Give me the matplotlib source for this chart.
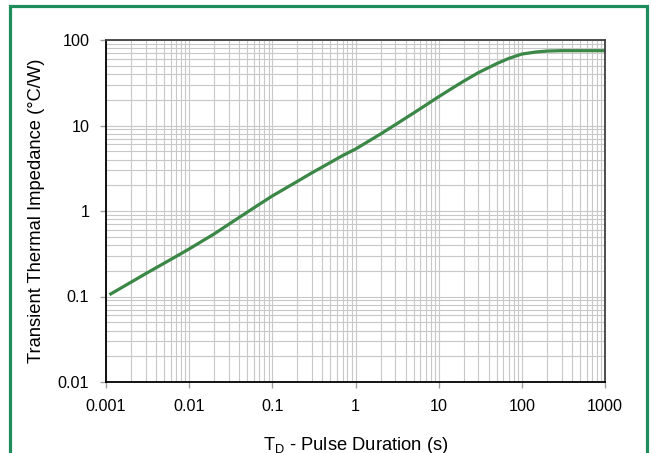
import matplotlib
matplotlib.use("Agg")
import matplotlib.pyplot as plt
from matplotlib.patches import Rectangle

plt.rcParams['font.family'] = ['Liberation Sans', 'DejaVu Sans']
plt.rcParams['mathtext.fontset'] = 'custom'
plt.rcParams['mathtext.rm'] = 'Liberation Sans'

# pulse duration (s) and transient thermal impedance (C/W)
pulse = [0.0011, 0.002, 0.003, 0.005, 0.007, 0.01, 0.02, 0.03, 0.05, 0.07,
         0.1, 0.2, 0.3, 0.5, 0.7, 1, 2, 3, 5, 7, 10, 15, 20, 30, 50, 70,
         100, 150, 200, 300, 500, 1000]
zth = [0.105, 0.147, 0.185, 0.245, 0.295, 0.36, 0.54, 0.70, 0.97, 1.2,
       1.5, 2.22, 2.8, 3.7, 4.45, 5.3, 7.95, 10.2, 14.0, 17.3, 21.7, 27.8, 33.0,
       41.5, 53, 61, 68.5, 72.5, 74.2, 75, 75, 75]

x_ticks = [0.001, 0.01, 0.1, 1, 10, 100, 1000]
x_labels = ['0.001', '0.01', '0.1', '1', '10', '100', '1000']
y_ticks = [0.01, 0.1, 1, 10, 100]
y_labels = ['0.01', '0.1', '1', '10', '100']

fig = plt.figure(figsize=(6.52, 4.53), dpi=100)
ax = fig.add_axes([106 / 652, 1 - 382 / 453, 499 / 652, 342 / 453])

# green frame around the whole chart (bottom edge runs off the image)
fig.patches.append(Rectangle((10 / 652, -0.05), 637 / 652, 1 - 6 / 453 + 0.05,
                             transform=fig.transFigure, fill=False,
                             edgecolor='#1f8c5c', linewidth=2.3, clip_on=False))

ax.plot(pulse, zth, color='#3a8746', linewidth=2.3, solid_capstyle='butt')

ax.set_xscale('log')
ax.set_yscale('log')
ax.set_xlim(0.001, 1000)
ax.set_ylim(0.01, 100)
ax.set_xticks(x_ticks)
ax.set_xticklabels(x_labels)
ax.set_yticks(y_ticks)
ax.set_yticklabels(y_labels)
ax.tick_params(which='major', direction='out', length=4, width=1,
               color='#a0a0a0', labelsize=11.6, pad=8)
ax.tick_params(which='minor', length=0)

ax.grid(which='major', color='#c8c8c8', linewidth=0.8)
ax.grid(which='minor', color='#c8c8c8', linewidth=0.8)
ax.set_axisbelow(True)

for side in ['left', 'bottom']:
    ax.spines[side].set_color('black')
    ax.spines[side].set_linewidth(1.3)
for side in ['top', 'right']:
    ax.spines[side].set_color('#404040')
    ax.spines[side].set_linewidth(1.3)

ax.set_ylabel('Transient Thermal Impedance (°C/W)', fontsize=13.2, labelpad=9)
ax.set_xlabel(r'T$_\mathrm{D}$ - Pulse Duration (s)', fontsize=13.2, labelpad=15)

fig.savefig('out.png', dpi=100)
